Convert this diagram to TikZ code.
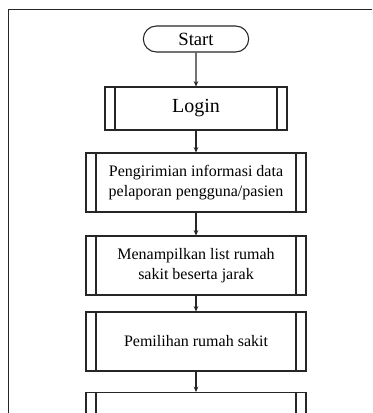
\documentclass[tikz,border=0pt]{standalone}
\usepackage{fontspec}
\setmainfont{Liberation Serif}
\usetikzlibrary{shapes.misc,arrows.meta}
\tikzset{
  lineclr/.style={draw=black!85, line width=0.8pt},
  procbox/.style={lineclr, rectangle, align=center, inner sep=2pt,
    path picture={
      \draw[black!85, line width=0.8pt]
        ([xshift=7.5pt]path picture bounding box.north west) -- ([xshift=7.5pt]path picture bounding box.south west)
        ([xshift=-7.5pt]path picture bounding box.north east) -- ([xshift=-7.5pt]path picture bounding box.south east);
    }},
  bigproc/.style={procbox, minimum width=165pt, minimum height=44.25pt, font=\fontsize{12}{15}\selectfont},
  terminal/.style={lineclr, rounded rectangle, minimum width=81pt, minimum height=19.5pt, inner sep=1pt, font=\fontsize{14}{16}\selectfont},
  flow/.style={lineclr, -{Stealth[length=4pt,width=3.5pt]}}
}
\begin{document}
\begin{tikzpicture}[x=0.75pt,y=-0.75pt]
\useasboundingbox (0,0) rectangle (372,413);
\clip (0,0) rectangle (372,413);
\draw[line width=1pt, black!85] (8.5,430) -- (8.5,9.3) -- (380,9.3);
\node[terminal] (start) at (196,39) {Start};
\node[procbox, minimum width=136.5pt, minimum height=32.25pt, font=\fontsize{15}{17}\selectfont] (login) at (196,108.5) {Login};
\node[bigproc] (kirim) at (196,182.5) {Pengirimian informasi data\\pelaporan pengguna/pasien};
\node[bigproc] (list) at (196,265.5) {Menampilkan list rumah\\sakit beserta jarak};
\node[bigproc] (pilih) at (196,341.5) {Pemilihan rumah sakit};
\node[bigproc, anchor=north] (next) at (196,392) {};
\draw[flow] (start) -- (login);
\draw[flow] (login) -- (kirim);
\draw[flow] (kirim) -- (list);
\draw[flow] (list) -- (pilih);
\draw[flow] (pilih) -- (next);
\end{tikzpicture}
\end{document}
